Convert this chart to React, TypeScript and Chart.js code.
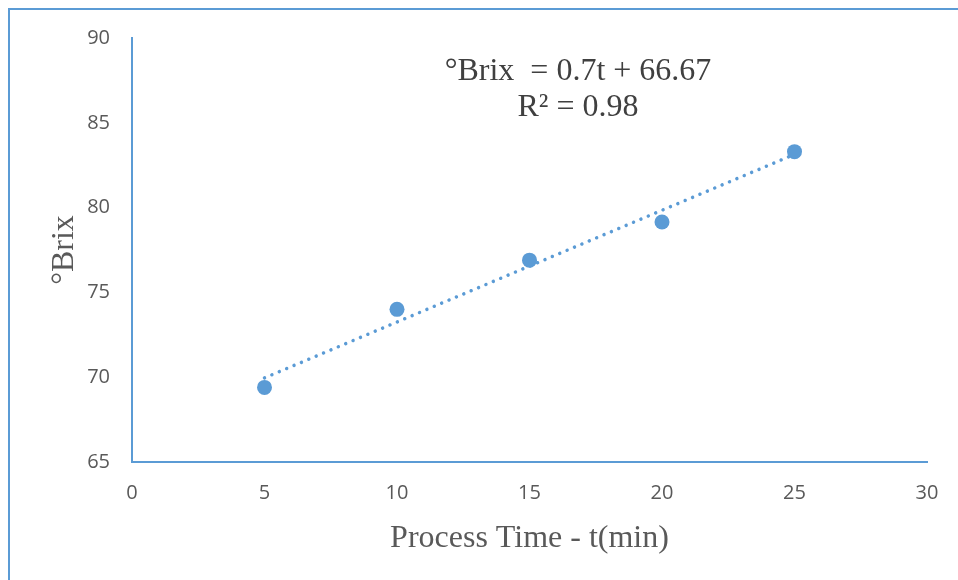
import React, { useEffect, useRef } from "react";
import { Chart, registerables } from "chart.js";

Chart.register(...registerables);

const processTimes = [5, 10, 15, 20, 25];
const brixValues = [69.4, 74.0, 76.9, 79.15, 83.3];
const xTicks = [0, 5, 10, 15, 20, 25, 30];
const yTicks = [65, 70, 75, 80, 85, 90];
const equationLines = ["°Brix  = 0.7t + 66.67", "R² = 0.98"];

const BLUE = "#5B9BD5";

function linearFit(xs: number[], ys: number[]) {
  const n = xs.length;
  const mx = xs.reduce((a, b) => a + b, 0) / n;
  const my = ys.reduce((a, b) => a + b, 0) / n;
  let sxy = 0;
  let sxx = 0;
  for (let i = 0; i < n; i++) {
    sxy += (xs[i] - mx) * (ys[i] - my);
    sxx += (xs[i] - mx) * (xs[i] - mx);
  }
  const slope = sxy / sxx;
  return { slope, intercept: my - slope * mx };
}

export default function App() {
  const ref = useRef<HTMLCanvasElement | null>(null);

  useEffect(() => {
    document.documentElement.style.overflow = "hidden";
    if (!ref.current) return;
    const fit = linearFit(processTimes, brixValues);
    const xMin = Math.min(...processTimes);
    const xMax = Math.max(...processTimes);
    const trend = [
      { x: xMin, y: fit.slope * xMin + fit.intercept },
      { x: xMax, y: fit.slope * xMax + fit.intercept },
    ];

    const equationPlugin = {
      id: "equation",
      afterDatasetsDraw(chart: any) {
        const { ctx, chartArea } = chart;
        ctx.save();
        ctx.fillStyle = "#404040";
        ctx.font = "32px 'Liberation Serif', 'Times New Roman', serif";
        ctx.textAlign = "center";
        ctx.textBaseline = "middle";
        const cx = chartArea.left + 446;
        ctx.fillText(equationLines[0], cx, chartArea.top + 34);
        ctx.fillText(equationLines[1], cx, chartArea.top + 70);
        ctx.restore();
      },
    };

    const chart = new Chart(ref.current, {
      type: "scatter",
      data: {
        datasets: [
          {
            label: "°Brix",
            data: processTimes.map((x, i) => ({ x, y: brixValues[i] })),
            backgroundColor: BLUE,
            borderColor: BLUE,
            pointRadius: 7.5,
            pointHoverRadius: 7.5,
            pointBorderWidth: 0,
            order: 1,
          },
          {
            type: "line",
            label: "Linear",
            data: trend,
            borderColor: BLUE,
            borderWidth: 3.5,
            borderDash: [0.01, 8],
            borderCapStyle: "round",
            pointRadius: 0,
            fill: false,
            order: 2,
          } as any,
        ],
      },
      options: {
        responsive: false,
        animation: false,
        events: [],
        layout: { padding: { left: 0, top: 28, right: 23, bottom: 0 } },
        plugins: {
          legend: { display: false },
          tooltip: { enabled: false },
        },
        scales: {
          x: {
            type: "linear",
            min: 0,
            max: 30,
            afterBuildTicks: (s: any) => {
              s.ticks = xTicks.map((v) => ({ value: v }));
            },
            afterFit: (s: any) => {
              s.height = 110;
              s.paddingLeft = 0;
              s.paddingRight = 0;
              s.paddingTop = 0;
              s.paddingBottom = 0;
            },
            grid: { display: false, drawTicks: false },
            border: { display: true, color: BLUE, width: 2 },
            ticks: {
              padding: 19,
              color: "#595959",
              font: { family: "'Open Sans', sans-serif", size: 20 },
              maxRotation: 0,
            },
            title: {
              display: true,
              text: "Process Time - t(min)",
              color: "#595959",
              font: { family: "'Liberation Serif', 'Times New Roman', serif", size: 32 },
              padding: { top: 0, bottom: 14 },
            },
          },
          y: {
            type: "linear",
            min: 65,
            max: 90,
            afterBuildTicks: (s: any) => {
              s.ticks = yTicks.map((v) => ({ value: v }));
            },
            afterFit: (s: any) => {
              s.width = 122;
              s.paddingLeft = 0;
              s.paddingRight = 0;
              s.paddingTop = 0;
              s.paddingBottom = 0;
            },
            grid: { display: false, drawTicks: false },
            border: { display: true, color: BLUE, width: 2 },
            ticks: {
              padding: 22,
              color: "#595959",
              font: { family: "'Open Sans', sans-serif", size: 20 },
            },
            title: {
              display: true,
              text: "°Brix",
              color: "#595959",
              font: { family: "'Liberation Serif', 'Times New Roman', serif", size: 32 },
              padding: { top: 35, bottom: 0 },
            },
          },
        },
      },
      plugins: [equationPlugin],
    });
    return () => chart.destroy();
  }, []);

  return (
    <div
      style={{
        position: "fixed",
        left: 8,
        top: 8,
        borderTop: `2px solid ${BLUE}`,
        borderLeft: `2px solid ${BLUE}`,
        width: 960,
        height: 580,
        background: "#ffffff",
      }}
    >
      <canvas ref={ref} width={940} height={562} style={{ display: "block" }} />
    </div>
  );
}
